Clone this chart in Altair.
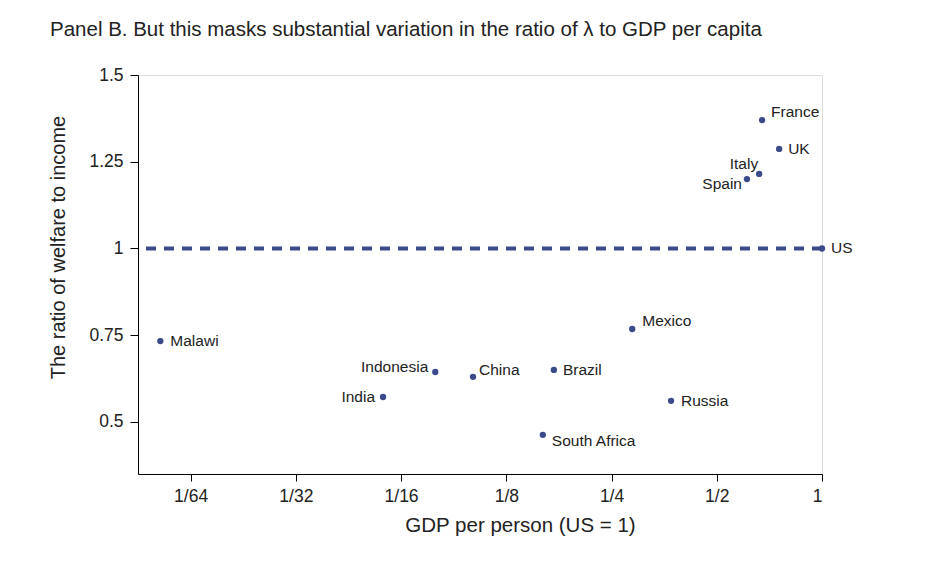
import altair as alt
import pandas as pd

countries = ["France", "UK", "Italy", "Spain", "US", "Mexico", "Malawi",
             "Indonesia", "China", "Brazil", "India", "Russia", "South Africa"]
gdp_rel = [0.674, 0.754, 0.661, 0.610, 1.0, 0.2865, 0.0128,
           0.0783, 0.1004, 0.171, 0.0555, 0.370, 0.159]
welfare_ratio = [1.370, 1.287, 1.215, 1.200, 1.0, 0.768, 0.733,
                 0.644, 0.630, 0.650, 0.572, 0.561, 0.463]

x_ticks = [1/64, 1/32, 1/16, 1/8, 1/4, 1/2, 1]
y_ticks = [0.5, 0.75, 1, 1.25, 1.5]

df = pd.DataFrame({"country": countries, "gdp": gdp_rel, "ratio": welfare_ratio})

FONT = "Liberation Sans"
DOT = "#3b4a8b"
TXT = "#222222"

# label placement (align, dx, dy)
place = {
    "France": ("left", 9, -8),
    "UK": ("left", 9, 0),
    "Italy": ("right", -1, -10),
    "Spain": ("right", -5, 5),
    "US": ("left", 9, 0),
    "Mexico": ("left", 10, -8),
    "Malawi": ("left", 10, 0),
    "Indonesia": ("right", -7, -5),
    "China": ("left", 6, -7),
    "Brazil": ("left", 9, 0),
    "India": ("right", -8, 0),
    "Russia": ("left", 10, 0),
    "South Africa": ("left", 9, 6),
}

xscale = alt.Scale(type="log", base=2, domain=[2 ** -6.5, 1], nice=False)
yscale = alt.Scale(domain=[0.35, 1.5], nice=False, zero=False)

base = alt.Chart(df)

xenc = alt.X("gdp:Q", scale=xscale, axis=alt.Axis(
    values=x_ticks, grid=False, title="GDP per person (US = 1)",
    labelExpr="datum.value >= 0.999 ? '1' : '1/' + round(1/datum.value)",
    labelFont=FONT, labelFontSize=17.5, labelColor=TXT, labelPadding=6,
    tickSize=7, tickColor="black", domainColor="black",
    titleFont=FONT, titleFontSize=20.5, titleFontWeight="normal", titleColor=TXT,
    titleX=382, titleY=51, titleBaseline="middle", titleAlign="center",
))
yenc = alt.Y("ratio:Q", scale=yscale, axis=alt.Axis(
    values=y_ticks, grid=False, title="The ratio of welfare to income",
    labelExpr="'' + datum.value",
    labelFont=FONT, labelFontSize=17.5, labelColor=TXT, labelPadding=7,
    tickSize=8, tickColor="black", domainColor="black",
    titleFont=FONT, titleFontSize=20, titleFontWeight="normal", titleColor=TXT,
    titleX=-80, titleY=172, titleBaseline="middle", titleAlign="center", titleAngle=-90,
))

rule = alt.Chart(pd.DataFrame({"y": [1.0]})).mark_rule(
    color=DOT, strokeWidth=4, strokeDash=[10, 8]
).encode(y=alt.Y("y:Q", scale=yscale))

points = base.mark_circle(size=40, color=DOT, opacity=1).encode(x=xenc, y=yenc)

layers = [rule, points]
for name, (al, dx, dy) in place.items():
    layers.append(
        base.transform_filter(alt.datum.country == name).mark_text(
            align=al, baseline="middle", dx=dx, dy=dy, font=FONT, fontSize=15.5, color=TXT
        ).encode(x=alt.X("gdp:Q", scale=xscale), y=alt.Y("ratio:Q", scale=yscale), text="country:N")
    )

chart = alt.layer(*layers).properties(
    width=684, height=399,
    title=alt.TitleParams(
        "Panel B. But this masks substantial variation in the ratio of λ to GDP per capita",
        anchor="start", dx=2, offset=10, baseline="alphabetic",
        font=FONT, fontSize=20.5, fontWeight="normal", color=TXT,
    ),
    autosize=alt.AutoSizeParams(type="none"),
    padding={"left": 130, "top": 67, "right": 110, "bottom": 70},
).configure_view(stroke=None).configure(background="white")

chart.save("out.html", embed_options={"renderer": "svg", "actions": False})
